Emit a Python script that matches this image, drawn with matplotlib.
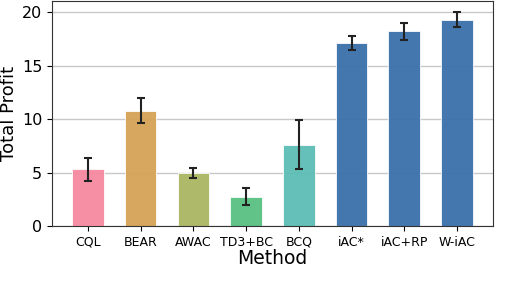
import numpy as np
import matplotlib
matplotlib.use("Agg")
import matplotlib.pyplot as plt

methods = ["CQL", "BEAR", "AWAC", "TD3+BC", "BCQ", "iAC*", "iAC+RP", "W-iAC"]
profit = [5.3, 10.8, 4.95, 2.75, 7.62, 17.1, 18.2, 19.3]
profit_err = [1.1, 1.2, 0.5, 0.8, 2.3, 0.68, 0.78, 0.68]
colors = ["#f6889f", "#d5a257", "#aab561", "#58c082", "#5cbdb5",
          "#3a70aa", "#3a70aa", "#3a70aa"]

fig = plt.figure(figsize=(5.26, 2.84), dpi=100)
ax = fig.add_axes([0.099, 0.204, 0.838, 0.791])

x = np.arange(len(methods))
ax.set_axisbelow(True)
ax.yaxis.grid(True, color="#c8c8c8", linewidth=1.0)
ax.bar(x, profit, width=0.6, color=colors, alpha=0.95,
       edgecolor="white", linewidth=0.6,
       yerr=profit_err, capsize=3,
       error_kw=dict(ecolor="#222222", elinewidth=1.5, capthick=1.5))

ax.set_xticks(x)
ax.set_xticklabels(methods, fontsize=9)
ax.set_ylim(0, 21)
ax.set_yticks([0, 5, 10, 15, 20])
ax.tick_params(axis="y", labelsize=11.5)
ax.set_ylabel("Total Profit", fontsize=13)
ax.yaxis.label.set_va("center")
ax.yaxis.set_label_coords(-0.097, 0.5)
ax.set_xlabel("Method", fontsize=13.5, labelpad=0)
for s in ax.spines.values():
    s.set_color("#333333")

fig.savefig("out.png", dpi=100)
